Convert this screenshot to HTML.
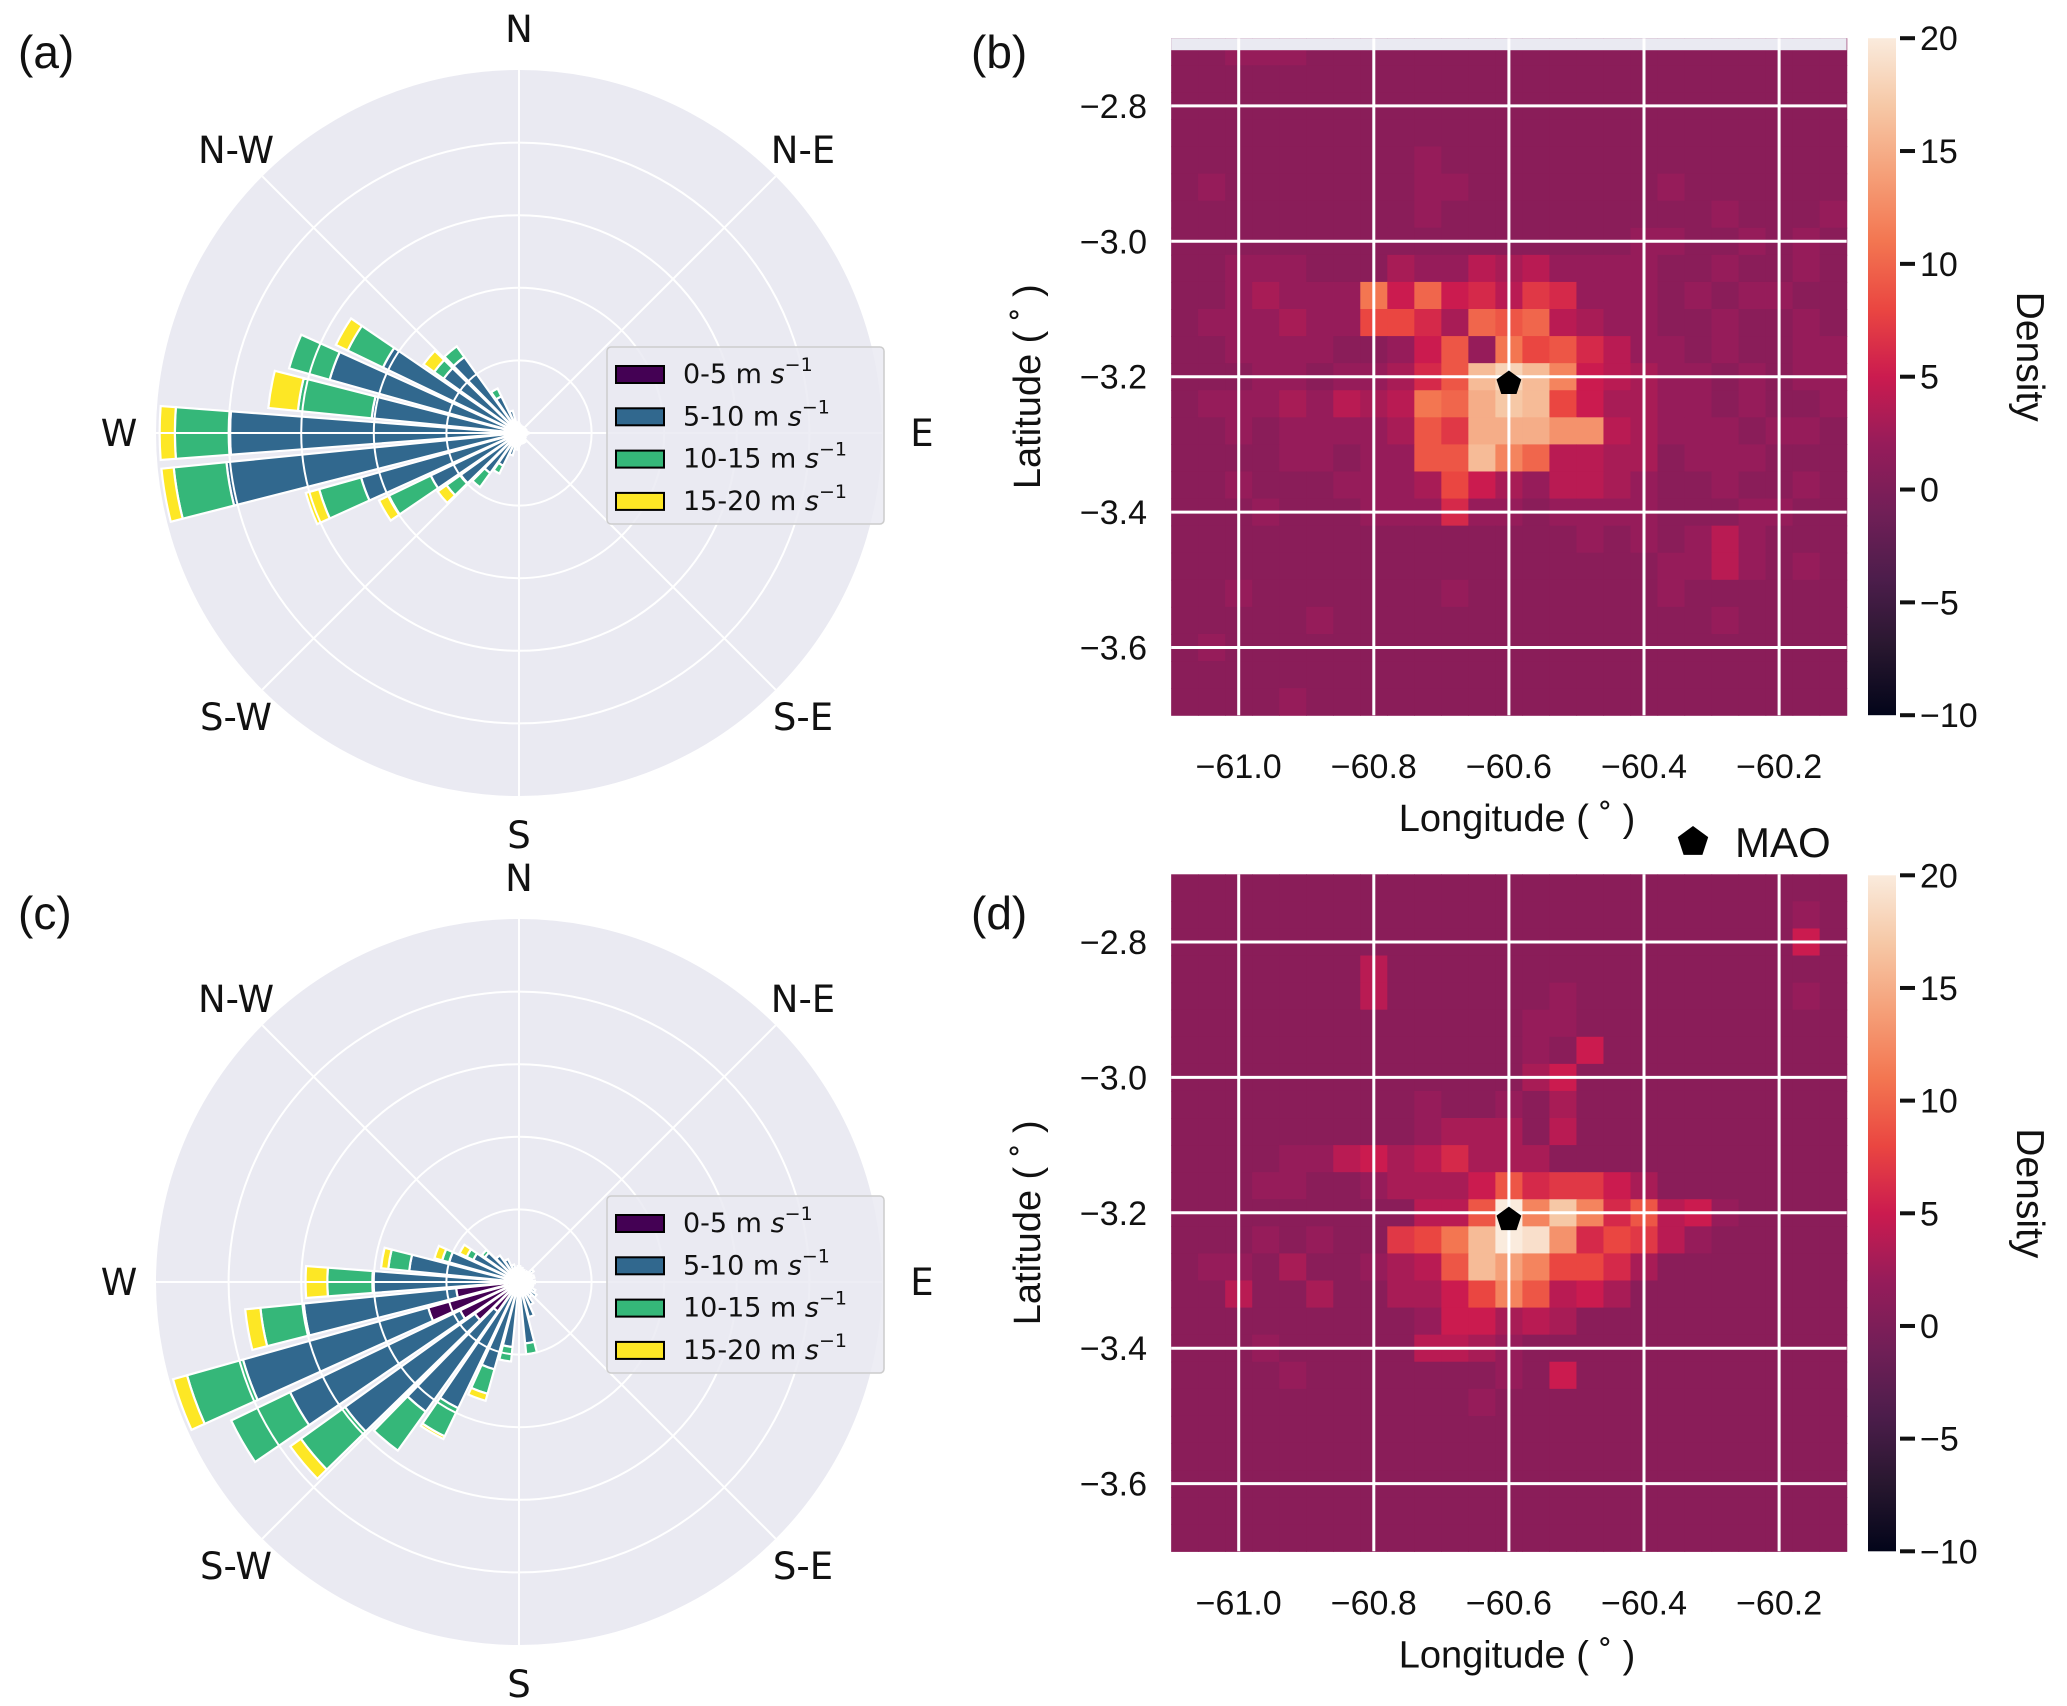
<!DOCTYPE html>
<html><head><meta charset="utf-8"><style>
html,body{margin:0;padding:0;background:#fff}
svg{display:block}
text{font-family:"Liberation Sans","DejaVu Sans",sans-serif;fill:#111}
.cmp{font-family:"DejaVu Sans","Liberation Sans",sans-serif;font-size:37px}
</style></head><body>
<svg id="fig" width="2067" height="1706" viewBox="0 0 2067 1706" xmlns="http://www.w3.org/2000/svg">
<defs>
<linearGradient id="cbgrad" x1="0" y1="1" x2="0" y2="0">
<stop offset="0" stop-color="#03051a"/><stop offset="0.1" stop-color="#28172f"/><stop offset="0.2" stop-color="#4c1d4b"/><stop offset="0.3" stop-color="#711f57"/><stop offset="0.4" stop-color="#961c5a"/><stop offset="0.5" stop-color="#cb1b4f"/><stop offset="0.6" stop-color="#ea4641"/><stop offset="0.7" stop-color="#f37651"/><stop offset="0.8" stop-color="#f5a079"/><stop offset="0.9" stop-color="#f6c8a6"/><stop offset="1" stop-color="#faebdd"/>
</linearGradient>
</defs>
<g id="root"></g>
</svg>
<script>
// ---------- wind rose data (ring units; one ring = 1 unit) ----------
const directions = [0,10,20,30,40,50,60,70,80,90,100,110,120,130,140,150,160,170,180,190,200,210,220,230,240,250,260,270,280,290,300,310,320,330,340,350];
const speedClasses = ["0-5","5-10","10-15","15-20"];
const roseA_0_5   = [.05,.05,.05,.05,.05,.05,.05,.05,.05,.05,.05,.05,.05,.05,.05,.05,.05,.05,.05,.08,.08,.08,.08,.08,.08,.08,.08,.08,.08,.08,.08,.08,.08,.08,.08,.05];
const roseA_5_10  = [.08,.06,.05,.05,.05,.05,.05,.06,.05,.08,.06,.05,.05,.06,.08,.1,.1,.1,.12,.15,.24,.42,.6,.91,1.27,2.18,3.97,3.9,1.96,2.63,2.0,1.2,1.21,.48,.24,.1];
const roseA_10_15 = [0,0,0,0,0,0,0,0,0,0,0,0,0,0,0,0,0,0,0,0,0,.12,.24,.24,.64,.6,.73,.76,1.02,.58,.54,.16,.18,.12,0,0];
const roseA_15_20 = [0,0,0,0,0,0,0,0,0,0,0,0,0,0,0,0,0,0,0,0,0,0,0,.15,.15,.19,.17,.21,.41,0,.18,.18,0,0,0,0];
const roseC_0_5   = [.1,.1,.1,.1,.1,.1,.1,.1,.1,.1,.1,.1,.1,.1,.1,.1,.1,.1,.1,.1,.1,.1,.5,.75,.9,1.3,.87,.1,.1,.1,.1,.1,.1,.1,.1,.1];
const roseC_5_10  = [.12,.1,.08,.06,.08,.15,.1,.12,.08,.12,.1,.1,.15,.2,.15,.25,.4,.75,.15,.8,1.15,1.83,1.7,2.2,2.6,2.65,2.11,1.92,1.42,.9,.6,.48,.35,.25,.15,.1];
const roseC_10_15 = [0,0,0,0,0,0,0,0,0,0,0,0,0,0,0,0,0,.15,0,.2,.35,.43,.66,.75,.9,.8,.6,.62,.29,.1,.1,.05,0,0,0,0];
const roseC_15_20 = [0,0,0,0,0,0,0,0,0,0,0,0,0,0,0,0,0,0,0,0,.1,.04,0,.18,0,.2,.21,.3,.1,.11,.11,0,0,0,0,0];
const compassLabels = ["N","N-E","E","S-E","S","S-W","W","N-W"];

// ---------- heatmap data ----------
const lonTicks = [-61.0,-60.8,-60.6,-60.4,-60.2];
const latTicks = [-2.8,-3.0,-3.2,-3.4,-3.6];
const cbTicks = [20,15,10,5,0,-5,-10];
const lonEdges = [-61.1,-60.1];
const latEdges = [-2.7,-3.7];
const maoSite = [-60.6,-3.21];
const densityB = [
[1,1,2,2,2,1,1,1,1,1,1,1,1,1,1,1,1,1,1,1,1,1,1,1,1],
[1,1,1,1,1,1,1,1,1,1,1,1,1,1,1,1,1,1,1,1,1,1,1,1,1],
[1,1,1,1,1,1,1,1,1,1,1,1,1,1,1,1,1,1,1,1,1,1,1,1,1],
[1,1,1,1,1,1,1,1,1,1,1,1,1,1,1,1,1,1,1,1,1,1,1,1,1],
[1,1,1,1,1,1,1,1,1,2,1,1,1,1,1,1,1,1,1,1,1,1,1,1,1],
[1,2,1,1,1,1,1,1,1,2,2,1,1,1,1,1,1,1,2,1,1,1,1,1,1],
[1,1,1,1,1,1,1,1,1,2,1,1,1,1,1,1,1,1,1,1,2,1,1,1,2],
[1,1,1,1,1,1,1,1,1,1,1,1,1,1,1,1,1,2,2,1,1,2,1,2,1],
[1,1,2,2,2,1,1,1,3,2,2,4,3,4,2,2,2,2,1,1,2,1,1,2,1],
[1,1,2,3,2,2,2,11,5,10,5,6,4,7,6,2,2,2,1,2,1,2,2,1,1],
[1,2,2,2,3,2,2,8,8,6,3,10,9,10,4,3,2,2,1,1,2,1,1,2,1],
[1,1,2,2,2,2,1,1,2,5,9,2,11,8,9,6,4,2,2,1,2,1,1,2,2],
[1,1,1,2,2,1,2,2,3,6,9,16,18,16,12,5,4,3,2,2,1,2,1,2,2],
[1,2,2,2,3,2,4,3,4,11,10,15,17,16,8,5,3,3,2,2,1,2,1,1,2],
[1,1,2,1,2,2,2,2,3,9,7,15,15,15,13,13,4,3,2,2,2,1,2,2,1],
[1,1,1,1,2,2,1,2,2,9,9,16,12,10,4,4,3,3,1,2,2,2,1,1,1],
[1,1,2,1,1,1,2,2,2,3,8,5,3,2,4,4,3,2,1,1,2,1,1,2,1],
[1,1,1,2,1,1,1,2,2,2,6,2,2,1,2,2,2,2,1,1,1,2,2,1,1],
[1,1,1,1,1,1,1,1,1,1,1,1,1,1,1,2,1,2,1,2,4,2,1,1,1],
[1,1,1,1,1,1,1,1,1,1,1,1,1,1,1,1,1,1,2,2,4,2,1,2,1],
[1,1,2,1,1,1,1,1,1,1,2,1,1,1,1,1,1,1,2,1,1,1,1,1,1],
[1,1,1,1,1,2,1,1,1,1,1,1,1,1,1,1,1,1,1,1,2,1,1,1,1],
[1,2,1,1,1,1,1,1,1,1,1,1,1,1,1,1,1,1,1,1,1,1,1,1,1],
[1,1,1,1,1,1,1,1,1,1,1,1,1,1,1,1,1,1,1,1,1,1,1,1,1],
[1,1,1,1,2,1,1,1,1,1,1,1,1,1,1,1,1,1,1,1,1,1,1,1,1]];
const densityD = [
[1,1,1,1,1,1,1,1,1,1,1,1,1,1,1,1,1,1,1,1,1,1,1,1,1],
[1,1,1,1,1,1,1,1,1,1,1,1,1,1,1,1,1,1,1,1,1,1,1,2,1],
[1,1,1,1,1,1,1,1,1,1,1,1,1,1,1,1,1,1,1,1,1,1,1,5,1],
[1,1,1,1,1,1,1,4,1,1,1,1,1,1,1,1,1,1,1,1,1,1,1,1,1],
[1,1,1,1,1,1,1,4,1,1,1,1,1,1,2,1,1,1,1,1,1,1,1,2,1],
[1,1,1,1,1,1,1,1,1,1,1,1,1,2,2,1,1,1,1,1,1,1,1,1,1],
[1,1,1,1,1,1,1,1,1,1,1,1,1,2,1,5,1,1,1,1,1,1,1,1,1],
[1,1,1,1,1,1,1,1,1,1,1,1,1,3,5,1,1,1,1,1,1,1,1,1,1],
[1,1,1,1,1,1,1,1,1,2,1,1,2,1,3,1,1,1,1,1,1,1,1,1,1],
[1,1,1,1,1,1,1,1,1,2,3,3,3,1,4,1,1,1,1,1,1,1,1,1,1],
[1,1,1,1,2,2,4,5,3,4,6,3,3,3,1,1,1,1,1,1,1,1,1,1,1],
[1,1,1,2,2,1,1,2,3,3,3,5,9,6,7,7,5,3,1,1,1,1,1,1,1],
[1,1,1,1,1,1,1,1,1,4,4,9,20,12,17,12,6,9,4,5,2,1,1,1,1],
[1,1,1,2,1,2,1,1,7,8,11,16,20,19,13,6,8,7,4,2,1,1,1,1,1],
[1,2,2,1,3,1,1,2,3,4,9,16,14,12,8,8,6,3,1,1,1,1,1,1,1],
[1,1,4,1,1,3,1,1,3,3,5,8,12,9,4,5,3,1,1,1,1,1,1,1,1],
[1,1,1,1,1,1,1,1,1,2,5,5,3,4,3,1,1,1,1,1,1,1,1,1,1],
[1,1,1,2,1,1,1,1,1,4,4,3,2,1,1,1,1,1,1,1,1,1,1,1,1],
[1,1,1,1,2,1,1,1,1,1,1,1,2,1,5,1,1,1,1,1,1,1,1,1,1],
[1,1,1,1,1,1,1,1,1,1,1,2,1,1,1,1,1,1,1,1,1,1,1,1,1],
[1,1,1,1,1,1,1,1,1,1,1,1,1,1,1,1,1,1,1,1,1,1,1,1,1],
[1,1,1,1,1,1,1,1,1,1,1,1,1,1,1,1,1,1,1,1,1,1,1,1,1],
[1,1,1,1,1,1,1,1,1,1,1,1,1,1,1,1,1,1,1,1,1,1,1,1,1],
[1,1,1,1,1,1,1,1,1,1,1,1,1,1,1,1,1,1,1,1,1,1,1,1,1],
[1,1,1,1,1,1,1,1,1,1,1,1,1,1,1,1,1,1,1,1,1,1,1,1,1]];

const NS = "http://www.w3.org/2000/svg";
const root = document.getElementById("root");
function mk(tag, attrs, parent){
  const e = document.createElementNS(NS, tag);
  for (const k in attrs) e.setAttribute(k, attrs[k]);
  (parent||root).appendChild(e);
  return e;
}
function txt(s, attrs, parent){ const t = mk("text", attrs, parent); t.textContent = s; return t; }

// ---------- rocket colormap ----------
const rocketStops = [[3,5,26],[40,23,47],[76,29,75],[113,31,87],[150,28,90],[203,27,79],[234,70,65],[243,118,81],[245,160,121],[246,200,166],[250,235,221]];
function rocket(v){
  let t = (v + 10) / 30; t = Math.max(0, Math.min(1, t));
  const p = t * 10, i = Math.min(9, Math.floor(p)), f = p - i;
  const a = rocketStops[i], b = rocketStops[i+1];
  return "rgb(" + a.map((x,k)=>Math.round(x + (b[k]-x)*f)).join(",") + ")";
}

// ---------- wind roses ----------
const RING = 72.6, RMAX = 363;
const classColors = ["#440154","#31688e","#35b779","#fde725"];
function pt(cx, cy, r, deg){ const a = deg*Math.PI/180; return [cx + r*Math.sin(a), cy - r*Math.cos(a)]; }
function drawRose(cx, cy, series, tag){
  const g = mk("g", {});
  
  
  const bg = mk("circle", {cx:cx, cy:cy, r:RMAX, fill:"#eaeaf2"}, g);
  
  
  const half = 4.3;
  directions.forEach((d, i) => {
    let r0 = 0;
    series.forEach((s, k) => {
      const v = s[i]; if (!(v > 0)) return;
      const r1 = r0 + v * RING;
      const a0 = d - half, a1 = d + half;
      const p1 = pt(cx,cy,r0,a0), p2 = pt(cx,cy,r1,a0), p3 = pt(cx,cy,r1,a1), p4 = pt(cx,cy,r0,a1);
      const dpath = "M"+p1+" L"+p2+" A"+r1+" "+r1+" 0 0 1 "+p3+" L"+p4+(r0>0?" A"+r0+" "+r0+" 0 0 0 "+p1:"")+" Z";
      const bar = mk("path", {d:dpath, fill:classColors[k], stroke:"#fff", "stroke-width":2.2, "stroke-linejoin":"miter"}, g);
      
      
      r0 = r1;
    });
  });
  for (let k = 1; k <= 4; k++){
    const c = mk("circle", {cx:cx, cy:cy, r:k*RING, fill:"none", stroke:"#fff", "stroke-width":2}, g);
    
    
  }
  for (let a = 0; a < 360; a += 45){
    const p = pt(cx,cy,RMAX,a);
    const l = mk("line", {x1:cx, y1:cy, x2:p[0], y2:p[1], stroke:"#fff", "stroke-width":2}, g);
    
    
  }
  const lp = [[0,-404],[284,-283],[403,0],[284,284],[0,402],[-283,284],[-400,0],[-283,-283]];
  compassLabels.forEach((s, i) => {
    const t = txt(s, {x:cx+lp[i][0], y:cy+lp[i][1]+13, "text-anchor":"middle", class:"cmp"}, g);
    
    
  });
  const lg = mk("g", {}, g);
  
  
  const ly = cy - 86;
  mk("rect", {x:607, y:ly, width:277, height:177, rx:4, fill:"#eaeaf2", "fill-opacity":0.85, stroke:"#cccccc", "stroke-width":1.5}, lg);
  speedClasses.forEach((s, k) => {
    const yy = ly + 26 + k*42.3;
    const sw = mk("rect", {x:616, y:yy-7, width:48, height:17, fill:classColors[k], stroke:"#000", "stroke-width":2}, lg);
    
    
    const t = mk("text", {x:683, y:yy+10, style:"font-family:'DejaVu Sans','Liberation Sans',sans-serif;font-size:27px"}, lg);
    
    
    t.appendChild(document.createTextNode(s + " m "));
    const it = document.createElementNS(NS, "tspan"); it.setAttribute("font-style","italic"); it.textContent = "s"; t.appendChild(it);
    const sup = document.createElementNS(NS, "tspan"); sup.setAttribute("dy","-12"); sup.setAttribute("font-size","19px"); sup.textContent = "\u22121"; t.appendChild(sup);
  });
}
drawRose(519, 433, [roseA_0_5, roseA_5_10, roseA_10_15, roseA_15_20], "a");
drawRose(519, 1282, [roseC_0_5, roseC_5_10, roseC_10_15, roseC_15_20], "c");

// ---------- heatmaps ----------
function xLon(lon){ return 1238.7 + (lon + 61.0) * 675.5; }
function drawHeat(dens, lat28y, tag, strip){
  const yLat = lat => lat28y + (-2.8 - lat) * 677;
  const g = mk("g", {});
  
  
  const nr = dens.length, nc = dens[0].length;
  const x0 = xLon(lonEdges[0]), x1 = xLon(lonEdges[1]);
  const y0 = yLat(latEdges[0]), y1 = yLat(latEdges[1]);
  const cw = (x1-x0)/nc, ch = (y1-y0)/nr;
  for (let r = 0; r < nr; r++) for (let c = 0; c < nc; c++){
    const cell = mk("rect", {x:x0+c*cw, y:y0+r*ch, width:cw+0.6, height:ch+0.6, fill:rocket(dens[r][c])}, g);
    
    
  }
  if (strip){ mk("rect", {x:x0, y:y0, width:x1-x0, height:12, fill:"#eaeaf2"}, g); }
  lonTicks.forEach(v => {
    const x = xLon(v);
    const l = mk("line", {x1:x, x2:x, y1:y0, y2:y1, stroke:"#fff", "stroke-width":3}, g);
    
    
    const t = txt("\u2212" + Math.abs(v).toFixed(1), {x:x, y:y1+63, "text-anchor":"middle", "font-size":34}, g);
    
    
  });
  latTicks.forEach(v => {
    const y = yLat(v);
    const l = mk("line", {x1:x0, x2:x1, y1:y, y2:y, stroke:"#fff", "stroke-width":3}, g);
    
    
    const t = txt("\u2212" + Math.abs(v).toFixed(1), {x:1147, y:y+12, "text-anchor":"end", "font-size":34}, g);
    
    
  });
  const xl = txt("Longitude ( \u02da )", {x:1517, y:y1+116, "text-anchor":"middle", "font-size":38}, g);
  
  
  const ycen = yLat(-3.2) + 10;
  const yl = txt("Latitude ( \u02da )", {x:0, y:0, "text-anchor":"middle", "font-size":38, transform:"translate(1040," + ycen + ") rotate(-90)"}, g);
  
  
  const mx = xLon(maoSite[0]), my = yLat(maoSite[1]);
  const pts = [];
  for (let k = 0; k < 5; k++){ const a = (k*72)*Math.PI/180; pts.push((mx+13*Math.sin(a)).toFixed(1)+","+(my-13*Math.cos(a)).toFixed(1)); }
  const mk1 = mk("polygon", {points:pts.join(" "), fill:"#000"}, g);
  
  
  const cb = mk("g", {}, g);
  
  
  const cy0 = yLat(-2.7) + (strip?0:1), cy1 = yLat(-3.7);
  mk("rect", {x:1868, y:cy0, width:28, height:cy1-cy0, fill:"url(#cbgrad)"}, cb);
  cbTicks.forEach(v => {
    const y = cy0 + (20 - v)/30*(cy1-cy0);
    mk("line", {x1:1900, x2:1915, y1:y, y2:y, stroke:"#111", "stroke-width":4}, cb);
    const t = txt(v < 0 ? "\u2212" + Math.abs(v) : String(v), {x:1920, y:y+12, "font-size":34}, cb);
    
    
  });
  const dl = txt("Density", {x:0, y:0, "text-anchor":"middle", "font-size":39, transform:"translate(2017," + ((cy0+cy1)/2 - 20) + ") rotate(90)"}, cb);
  
  
}
drawHeat(densityB, 105.9, "b", true);
drawHeat(densityD, 942, "d", false);

const mg = mk("g", {});


{
  const cx = 1693, cy = 842, pts = [];
  for (let k = 0; k < 5; k++){ const a = (k*72)*Math.PI/180; pts.push((cx+16*Math.sin(a)).toFixed(1)+","+(cy-16*Math.cos(a)).toFixed(1)); }
  mk("polygon", {points:pts.join(" "), fill:"#000"}, mg);
  txt("MAO", {x:1735, y:857, "font-size":42}, mg);
}

[["(a)",50,68],["(b)",1003,68],["(c)",50,929],["(d)",1003,929]].forEach(p => {
  const t = txt(p[0], {x:p[1]-32, y:p[2], "font-size":46});
  
  
});
</script>
</body></html>
